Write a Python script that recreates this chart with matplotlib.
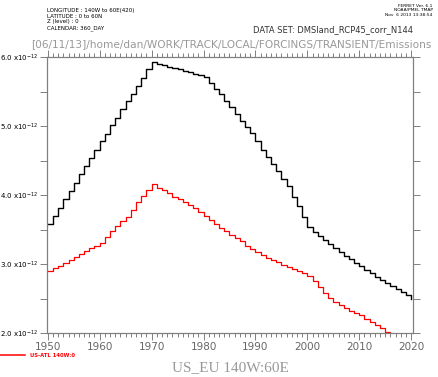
import numpy as np
import matplotlib
matplotlib.use("Agg")
import matplotlib.pyplot as plt
from matplotlib.ticker import MultipleLocator, FuncFormatter

years = np.arange(1950, 2021)

# US_EU 140W:60E (black)
us_eu = [3.58, 3.70, 3.82, 3.94, 4.06, 4.18, 4.31, 4.42, 4.54, 4.66,
         4.78, 4.89, 5.01, 5.12, 5.24, 5.36, 5.47, 5.58, 5.70, 5.82,
         5.92, 5.90, 5.88, 5.86, 5.84, 5.82, 5.80, 5.78, 5.76, 5.74,
         5.71, 5.62, 5.54, 5.46, 5.36, 5.27, 5.17, 5.08, 4.98, 4.90,
         4.79, 4.66, 4.55, 4.45, 4.35, 4.24, 4.13, 3.98, 3.84, 3.68,
         3.54, 3.47, 3.41, 3.35, 3.29, 3.23, 3.17, 3.12, 3.07, 3.02,
         2.97, 2.92, 2.87, 2.82, 2.77, 2.73, 2.68, 2.64, 2.60, 2.55,
         2.50]

# US-ATL 140W:0 (red)
us_atl = [2.90, 2.94, 2.98, 3.02, 3.06, 3.10, 3.15, 3.19, 3.23, 3.27,
          3.31, 3.40, 3.48, 3.55, 3.62, 3.68, 3.79, 3.90, 3.99, 4.08,
          4.16, 4.11, 4.07, 4.03, 3.98, 3.94, 3.90, 3.86, 3.82, 3.76,
          3.70, 3.64, 3.58, 3.53, 3.48, 3.43, 3.38, 3.33, 3.27, 3.22,
          3.17, 3.13, 3.09, 3.06, 3.03, 2.99, 2.96, 2.93, 2.90, 2.87,
          2.83, 2.75, 2.67, 2.59, 2.51, 2.46, 2.41, 2.37, 2.33, 2.29,
          2.26, 2.21, 2.16, 2.12, 2.07, 2.02, 1.97, 1.93, 1.88, 1.84,
          1.80]

GRAY = "#808080"

fig = plt.figure(figsize=(4.38, 3.77), dpi=100)
ax = fig.add_axes([0.1066, 0.1159, 0.837, 0.733])

ax.plot(years, us_eu, color="black", lw=1.0, drawstyle="steps-post")
ax.plot(years, us_atl, color="red", lw=0.9, drawstyle="steps-post")

ax.set_xlim(1949.8, 2020.4)
ax.set_ylim(2.0, 6.0)

for s in ax.spines.values():
    s.set_color(GRAY)
    s.set_linewidth(0.9)

ax.xaxis.set_major_locator(MultipleLocator(10))
ax.xaxis.set_minor_locator(MultipleLocator(1))
ax.yaxis.set_major_locator(MultipleLocator(1.0))
ax.yaxis.set_minor_locator(MultipleLocator(0.5))
ax.yaxis.set_major_formatter(FuncFormatter(lambda v, p: "%.1f x10$^{-12}$" % v))

ax.tick_params(axis="both", which="both", direction="out", color=GRAY,
               top=True, right=True, width=0.7)
ax.tick_params(axis="x", which="major", length=5, labelsize=7.5,
               labelcolor="#666666", pad=1.5)
ax.tick_params(axis="x", which="minor", length=3)
ax.tick_params(axis="y", which="major", length=5, labelsize=5, pad=1)
ax.tick_params(axis="y", which="minor", length=5)

# header text
fig.text(0.107, 0.968, "LONGITUDE : 140W to 60E(420)", fontsize=4)
fig.text(0.107, 0.953, "LATITUDE : 0 to 60N", fontsize=4)
fig.text(0.107, 0.938, "Z (level) : 0", fontsize=4)
fig.text(0.107, 0.923, "CALENDAR: 360_DAY", fontsize=4)
fig.text(0.988, 0.985, "FERRET Ver. 6.1", fontsize=3.2, ha="right", va="center")
fig.text(0.988, 0.973, "NOAA/PMEL TMAP", fontsize=3.2, ha="right", va="center")
fig.text(0.988, 0.961, "Nov  6 2013 13:38:54", fontsize=3.2, ha="right", va="center")
fig.text(0.76, 0.922, "DATA SET: DMSland_RCP45_corr_N144", fontsize=6.0,
         ha="center", va="center", color="#333333")
fig.text(0.527, 0.883,
         "[06/11/13]/home/dan/WORK/TRACK/LOCAL/FORCINGS/TRANSIENT/Emissions",
         fontsize=7.6, ha="center", va="center", color="#999999")

# legend line and footer
fig.add_artist(plt.Line2D([0.0, 0.057], [0.058, 0.058], color="red", lw=1.1,
                          transform=fig.transFigure))
fig.text(0.068, 0.058, "US-ATL 140W:0", fontsize=3.8, color="red",
         weight="bold", va="center")
fig.text(0.525, 0.024, "US_EU 140W:60E", fontsize=11, ha="center",
         va="center", color="#999999", family="Liberation Serif")

fig.savefig("out.png", dpi=100)
